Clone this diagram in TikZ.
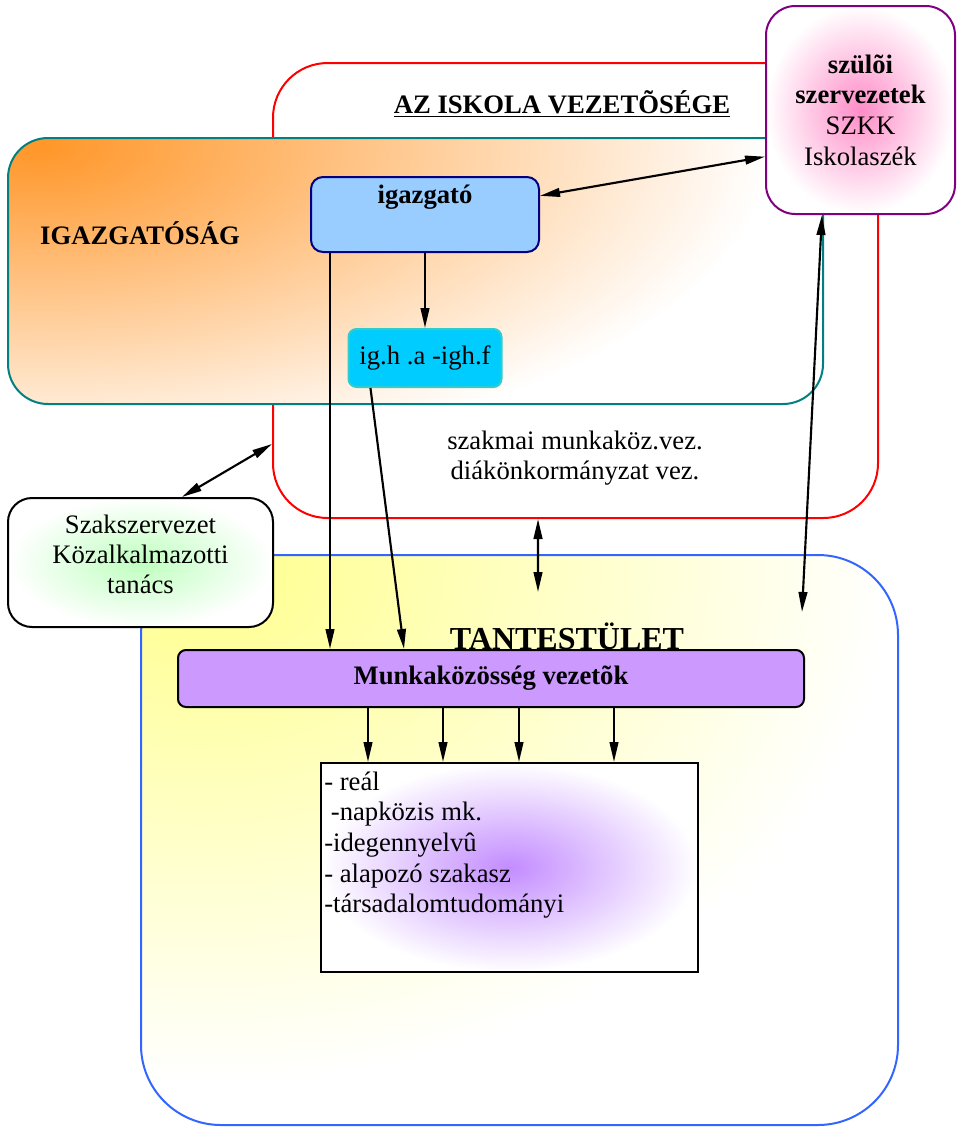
\documentclass[tikz,border=0pt]{standalone}
\usepackage{fontspec}
\setmainfont{Liberation Serif}
\usepackage{tikz}
\usetikzlibrary{arrows.meta, positioning}

\definecolor{igorange}{RGB}{255,150,40}
\definecolor{igblue}{RGB}{153,204,255}
\definecolor{ignavy}{RGB}{0,0,128}
\definecolor{ighfill}{RGB}{0,204,255}
\definecolor{ighdraw}{RGB}{51,204,204}
\definecolor{igteal}{RGB}{0,128,128}
\definecolor{szpurple}{RGB}{128,0,128}
\definecolor{szpink}{RGB}{255,140,200}
\definecolor{szgreen}{RGB}{190,255,190}
\definecolor{tantblue}{RGB}{51,102,255}
\definecolor{tantyellow}{RGB}{255,255,140}
\definecolor{mkpurple}{RGB}{204,153,255}
\definecolor{listpurple}{RGB}{195,140,255}

\begin{document}
\begin{tikzpicture}[x=0.75pt, y=-0.75pt, >={Triangle[length=15pt, width=6.5pt]},
    every node/.style={font=\fontsize{20}{23}\selectfont},
    boldtext/.style={font=\fontsize{20}{23}\selectfont\bfseries},
    conn/.style={line width=1.6pt}]
    \useasboundingbox (0,0) rectangle (958,1129);

    % Nodes
    \node (vez) [draw=red, line width=1.5pt, fill=white, rounded corners=41pt, minimum width=453.75pt, minimum height=341.25pt] at (575.5,290.5) {};
    \node (igsag) [fill=white, outer sep=0pt, rounded corners=30pt, minimum width=611.25pt, minimum height=199.5pt] at (415.5,271) {};
    \begin{scope}
        \clip [rounded corners=30pt] (igsag.north west) rectangle (igsag.south east);
        \shade [inner color=igorange, outer color=white, shift={(38,146)}, yscale=0.44] (0,0) circle [radius=550pt];
    \end{scope}
    \draw [igteal, line width=1.5pt, rounded corners=30pt] (igsag.north west) rectangle (igsag.south east);
    \node (szuloi) [draw=szpurple, line width=1.5pt, rounded corners=22pt, minimum width=141.75pt, minimum height=156pt, inner color=szpink, outer color=white, align=center] at (860.5,110) {\textbf{szülõi}\\\textbf{szervezetek}\\SZKK\\Iskolaszék};
    \node (tant) [fill=white, outer sep=0pt, rounded corners=60pt, minimum width=567.75pt, minimum height=427.5pt] at (519.5,840) {};
    \begin{scope}
        \clip [rounded corners=60pt] (tant.north west) rectangle (tant.south east);
        \shade [inner color=tantyellow, outer color=white, shift={(200,565)}, yscale=0.75] (0,0) circle [radius=520pt];
    \end{scope}
    \draw [tantblue, line width=1.5pt, rounded corners=60pt] (tant.north west) rectangle (tant.south east);
    \node (szak) [draw, line width=1.5pt, rounded corners=18pt, minimum width=198.75pt, minimum height=96.75pt, inner color=szgreen, outer color=white, align=center, font=\fontsize{20}{22.5}\selectfont] at (140.5,562.5) {Szakszervezet\\Közalkalmazotti\\tanács\\[-10pt]\mbox{}};

    % Titles
    \node (vezTitle) [boldtext] at (562,104) {\underline{AZ ISKOLA VEZETÕSÉGE}};
    \node (igsagTitle) [boldtext] at (140,233) {IGAZGATÓSÁG};
    \node (tantTitle) [font=\fontsize{24}{28}\selectfont\bfseries] at (567,636) {TANTESTÜLET};
    \node (vezText) [align=center, font=\fontsize{20}{22.5}\selectfont] at (575,458) {szakmai munkaköz.vez.\\diákönkormányzat vez.};

    % Inner boxes
    \node (igazgato) [draw=ignavy, fill=igblue, line width=1.5pt, rounded corners=9pt, minimum width=171pt, minimum height=56.25pt, boldtext, align=center] at (425,214.5) {igazgató\\\strut};
    \node (igh) [below=56.25pt of igazgato, draw=ighdraw, fill=ighfill, line width=1.5pt, rounded corners=6pt, minimum width=114.75pt, minimum height=43.5pt] {ig.h .a -igh.f};
    \node (mkv) [draw, fill=mkpurple, line width=1.5pt, rounded corners=6pt, minimum width=469.5pt, minimum height=42.75pt, boldtext] at (491,678.5) {Munkaközösség vezetõk};
    \node (lista) [draw, line width=1.5pt, minimum width=282.75pt, minimum height=156.75pt, inner color=listpurple, outer color=white] at (509.5,867.5) {};
    \node (listaText) [anchor=north west, align=left, inner xsep=3pt, inner ysep=7pt] at (lista.north west) {- reál\\\ -napközis mk.\\-idegennyelvû\\- alapozó szakasz\\-társadalomtudományi};

    % Free ends
    \coordinate (tantA) at (538,592);
    \coordinate (tantB) at (802,612);
    \coordinate (igLeft) at ([xshift=-71.25pt]igazgato.south);

    % Path
    \path [<->, conn] ([yshift=14pt]igazgato.east) edge ([yshift=-35pt]szuloi.west);
    \path [->, conn] (igazgato) edge (igh);
    \path [->, conn] (igLeft) edge (igLeft |- mkv.north);
    \path [->, conn] ([xshift=-40.9pt]igh.south) edge ([xshift=-65.25pt]mkv.north);
    \path [<->, conn] ([xshift=31.1pt]szak.north) edge ([yshift=56.25pt]vez.south west);
    \path [<->, conn] ([xshift=-28.1pt]vez.south) edge (tantA);
    \path [<->, conn] ([xshift=-28.9pt]szuloi.south) edge (tantB);
    \foreach \x in {368,443,519,614}
        \draw [->, conn] (\x,0 |- mkv.south) -- (\x,0 |- lista.north);
\end{tikzpicture}
\end{document}
